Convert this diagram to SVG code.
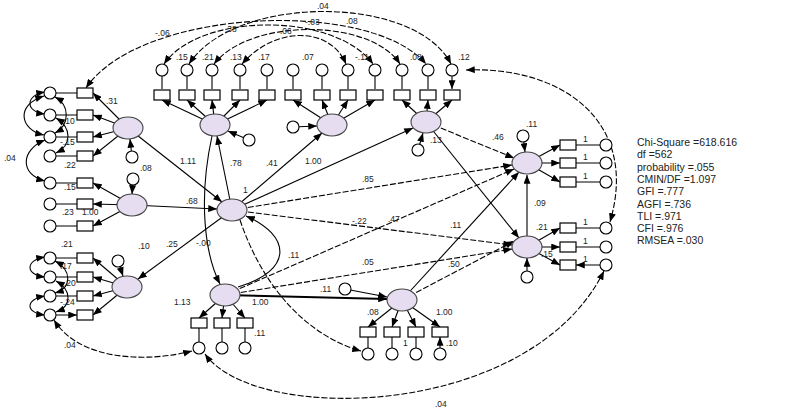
<svg xmlns="http://www.w3.org/2000/svg" width="803" height="410" viewBox="0 0 803 410">
<defs>
<marker id="a" viewBox="0 0 10 8" refX="10" refY="4" markerWidth="9" markerHeight="7" orient="auto-start-reverse" markerUnits="userSpaceOnUse"><path d="M0,0 L10,4 L0,8 z" fill="#000"/></marker>
<style>
.c{stroke:#000;stroke-width:1.1;fill:none;marker-end:url(#a)}
.d{stroke-dasharray:6 2}
.b{marker-start:url(#a)}
.lat{fill:#e6def0;stroke:#444;stroke-width:1.1}
.box{fill:#fff;stroke:#000;stroke-width:1.2}
.err{fill:#fff;stroke:#000;stroke-width:1.1}
.t{font-family:"Liberation Sans",Arial,sans-serif;font-size:8.5px;fill:#222}
.st{font-family:"Liberation Sans",Arial,sans-serif;font-size:10.5px;fill:#222}
</style>
</defs>
<rect width="803" height="410" fill="#fff"/>
<g id="connectors">
<path class="c" d="M162 70V89M187 70V89M212 70V89M240 70V89M267 70V89M293 70V89M322 70V89M348 70V89M375 70V89M402 70V89M428 70V89M452 70V89"/>
<path class="c" d="M215 125L162 100"/><path class="c" d="M215 125L187 100"/><path class="c" d="M215 125L212 100"/><path class="c" d="M215 125L240 100"/><path class="c" d="M215 125L267 100"/>
<path class="c" d="M332 125L293 100"/><path class="c" d="M332 125L322 100"/><path class="c" d="M332 125L348 100"/><path class="c" d="M332 125L375 100"/>
<path class="c" d="M426 122L402 100"/><path class="c" d="M426 122L428 100"/><path class="c" d="M426 122L452 100"/>
<path class="c" d="M50 93H77M50 115H77M50 137H77M50 156H77M50 183H77M50 204H77M50 226H77M50 258H77M50 277H77M50 296H77M50 315H77"/>
<path class="c" d="M128 128L93 93"/><path class="c" d="M128 128L93 115"/><path class="c" d="M128 128L93 137"/><path class="c" d="M128 128L93 156"/>
<path class="c" d="M132 205L93 183"/><path class="c" d="M132 205L93 204"/><path class="c" d="M132 205L93 226"/>
<path class="c" d="M127 287L93 258"/><path class="c" d="M127 287L93 277"/><path class="c" d="M127 287L93 296"/><path class="c" d="M127 287L93 315"/>
<path class="c" d="M606 145H576M606 163H576M606 182H576M606 228H576M606 247H576M606 265H576"/>
<path class="c" d="M527 163L560 145"/><path class="c" d="M527 163L560 163"/><path class="c" d="M527 163L560 182"/>
<path class="c" d="M527 247L560 228"/><path class="c" d="M527 247L560 247"/><path class="c" d="M527 247L560 265"/>
<path class="c" d="M199 348V328M222 348V328M245 348V328M368 354V337M392 354V337M416 354V337M440 354V337"/>
<path class="c" d="M225 295L199 318"/><path class="c" d="M225 295L222 318"/><path class="c" d="M225 295L245 318"/>
<path class="c" d="M402 300L368 327"/><path class="c" d="M402 300L392 327"/><path class="c" d="M402 300L416 327"/><path class="c" d="M402 300L440 327"/>
<path class="c" d="M249 140L228 131"/><path class="c" d="M293 127L317 126"/><path class="c" d="M418 150L423 133"/><path class="c" d="M523 136L525 152"/><path class="c" d="M527 277L527 258"/><path class="c" d="M345 289L387 297"/><path class="c" d="M132 157L130 139"/><path class="c" d="M133 179L132 194"/><path class="c" d="M118 261L123 276"/>
<path class="c" d="M128 128L222 202"/>
<path class="c" d="M132 205L217 209"/>
<path class="c" d="M232 210L138 279"/>
<path class="c" d="M232 210L217 136"/>
<path class="c" d="M232 210L322 133"/>
<path class="c" d="M232 210L413 128"/>
<path class="c d" d="M232 210L512 165"/>
<path class="c d" d="M232 210L512 245"/>
<path class="c d" d="M225 295L514 169"/>
<path class="c d" d="M225 295L512 249"/>
<path class="c" style="stroke-width:2" d="M225 295L387 299"/>
<path class="c d" d="M402 300L514 241"/>
<path class="c" d="M402 300L519 172"/>
<path class="c d" d="M426 122L514 158"/>
<path class="c" d="M426 122L519 238"/>
<path class="c" d="M527 236L527 175"/>
<path class="c" d="M238 287C295 270 290 235 246 216"/>
<path class="c" d="M212 136C198 200 205 255 220 284"/>
<path class="c d" d="M240 220C262 285 305 335 361 351"/>
<path class="c d b" d="M86 88C140 8 370 -2 426 64"/>
<path class="c d b" d="M164 64C200 12 335 12 373 64"/>
<path class="c d b" d="M189 64C235 -6 415 -6 451 64"/>
<path class="c d b" d="M214 64C250 18 370 18 400 64"/>
<path class="c d b" d="M242 64C275 26 330 26 346 64"/>
<path class="c d b" d="M466 70C560 66 640 120 610 222"/>
<path class="c d b" d="M54 320C80 362 150 362 192 351"/>
<path class="c d b" d="M205 354C255 425 530 420 604 271"/>
<path class="c b" d="M45 92C25 95 25 112 45 114"/>
<path class="c b" d="M44 96C15 105 20 130 44 135"/>
<path class="c b" d="M55 97C70 105 70 125 55 133"/>
<path class="c b" d="M56 118C72 128 72 145 56 153"/>
<path class="c b" d="M45 140C20 150 20 175 45 181"/>
<path class="c b" d="M45 257C25 260 25 275 45 277"/>
<path class="c b" d="M45 296C25 299 25 313 45 315"/>
<path class="c b" d="M55 261C72 270 72 288 55 293"/>
<path class="c b" d="M56 281C72 290 72 306 56 312"/>
</g>
<g id="latents">
<g id="A"><ellipse class="lat" cx="215" cy="125" rx="15" ry="11"/></g>
<g id="B"><ellipse class="lat" cx="332" cy="125" rx="15" ry="11"/></g>
<g id="C"><ellipse class="lat" cx="426" cy="122" rx="15" ry="11"/></g>
<g id="D"><ellipse class="lat" cx="527" cy="163" rx="15" ry="11"/></g>
<g id="E"><ellipse class="lat" cx="527" cy="247" rx="15" ry="11"/></g>
<g id="F"><ellipse class="lat" cx="225" cy="295" rx="15" ry="11"/></g>
<g id="G"><ellipse class="lat" cx="402" cy="300" rx="15" ry="11"/></g>
<g id="H"><ellipse class="lat" cx="232" cy="210" rx="15" ry="11"/></g>
<g id="L1"><ellipse class="lat" cx="128" cy="128" rx="15" ry="11"/></g>
<g id="L2"><ellipse class="lat" cx="132" cy="205" rx="15" ry="11"/></g>
<g id="L3"><ellipse class="lat" cx="127" cy="287" rx="15" ry="11"/></g>
</g>
<g id="boxes">
<g id="bt1"><rect class="box" x="154" y="90" width="16" height="10"/></g>
<g id="bt2"><rect class="box" x="179" y="90" width="16" height="10"/></g>
<g id="bt3"><rect class="box" x="204" y="90" width="16" height="10"/></g>
<g id="bt4"><rect class="box" x="232" y="90" width="16" height="10"/></g>
<g id="bt5"><rect class="box" x="259" y="90" width="16" height="10"/></g>
<g id="bt6"><rect class="box" x="285" y="90" width="16" height="10"/></g>
<g id="bt7"><rect class="box" x="314" y="90" width="16" height="10"/></g>
<g id="bt8"><rect class="box" x="340" y="90" width="16" height="10"/></g>
<g id="bt9"><rect class="box" x="367" y="90" width="16" height="10"/></g>
<g id="bt10"><rect class="box" x="394" y="90" width="16" height="10"/></g>
<g id="bt11"><rect class="box" x="420" y="90" width="16" height="10"/></g>
<g id="bt12"><rect class="box" x="444" y="90" width="16" height="10"/></g>
<g id="bl1"><rect class="box" x="77" y="88" width="16" height="10"/></g>
<g id="bl2"><rect class="box" x="77" y="110" width="16" height="10"/></g>
<g id="bl3"><rect class="box" x="77" y="132" width="16" height="10"/></g>
<g id="bl4"><rect class="box" x="77" y="151" width="16" height="10"/></g>
<g id="bl5"><rect class="box" x="77" y="178" width="16" height="10"/></g>
<g id="bl6"><rect class="box" x="77" y="199" width="16" height="10"/></g>
<g id="bl7"><rect class="box" x="77" y="221" width="16" height="10"/></g>
<g id="bl8"><rect class="box" x="77" y="253" width="16" height="10"/></g>
<g id="bl9"><rect class="box" x="77" y="272" width="16" height="10"/></g>
<g id="bl10"><rect class="box" x="77" y="291" width="16" height="10"/></g>
<g id="bl11"><rect class="box" x="77" y="310" width="16" height="10"/></g>
<g id="br1"><rect class="box" x="560" y="140" width="16" height="10"/></g>
<g id="br2"><rect class="box" x="560" y="158" width="16" height="10"/></g>
<g id="br3"><rect class="box" x="560" y="177" width="16" height="10"/></g>
<g id="br4"><rect class="box" x="560" y="223" width="16" height="10"/></g>
<g id="br5"><rect class="box" x="560" y="242" width="16" height="10"/></g>
<g id="br6"><rect class="box" x="560" y="260" width="16" height="10"/></g>
<g id="bf1"><rect class="box" x="191" y="318" width="16" height="10"/></g>
<g id="bf2"><rect class="box" x="214" y="318" width="16" height="10"/></g>
<g id="bf3"><rect class="box" x="237" y="318" width="16" height="10"/></g>
<g id="bg1"><rect class="box" x="360" y="327" width="16" height="10"/></g>
<g id="bg2"><rect class="box" x="384" y="327" width="16" height="10"/></g>
<g id="bg3"><rect class="box" x="408" y="327" width="16" height="10"/></g>
<g id="bg4"><rect class="box" x="432" y="327" width="16" height="10"/></g>
</g>
<g id="errors">
<g id="et1"><circle class="err" cx="162" cy="70" r="6"/></g>
<g id="et2"><circle class="err" cx="187" cy="70" r="6"/></g>
<g id="et3"><circle class="err" cx="212" cy="70" r="6"/></g>
<g id="et4"><circle class="err" cx="240" cy="70" r="6"/></g>
<g id="et5"><circle class="err" cx="267" cy="70" r="6"/></g>
<g id="et6"><circle class="err" cx="293" cy="70" r="6"/></g>
<g id="et7"><circle class="err" cx="322" cy="70" r="6"/></g>
<g id="et8"><circle class="err" cx="348" cy="70" r="6"/></g>
<g id="et9"><circle class="err" cx="375" cy="70" r="6"/></g>
<g id="et10"><circle class="err" cx="402" cy="70" r="6"/></g>
<g id="et11"><circle class="err" cx="428" cy="70" r="6"/></g>
<g id="et12"><circle class="err" cx="452" cy="70" r="6"/></g>
<g id="el1"><circle class="err" cx="50" cy="93" r="6"/></g>
<g id="el2"><circle class="err" cx="50" cy="115" r="6"/></g>
<g id="el3"><circle class="err" cx="50" cy="137" r="6"/></g>
<g id="el4"><circle class="err" cx="50" cy="156" r="6"/></g>
<g id="el5"><circle class="err" cx="50" cy="183" r="6"/></g>
<g id="el6"><circle class="err" cx="50" cy="204" r="6"/></g>
<g id="el7"><circle class="err" cx="50" cy="226" r="6"/></g>
<g id="el8"><circle class="err" cx="50" cy="258" r="6"/></g>
<g id="el9"><circle class="err" cx="50" cy="277" r="6"/></g>
<g id="el10"><circle class="err" cx="50" cy="296" r="6"/></g>
<g id="el11"><circle class="err" cx="50" cy="315" r="6"/></g>
<g id="er1"><circle class="err" cx="606" cy="145" r="6"/></g>
<g id="er2"><circle class="err" cx="606" cy="163" r="6"/></g>
<g id="er3"><circle class="err" cx="606" cy="182" r="6"/></g>
<g id="er4"><circle class="err" cx="606" cy="228" r="6"/></g>
<g id="er5"><circle class="err" cx="606" cy="247" r="6"/></g>
<g id="er6"><circle class="err" cx="606" cy="265" r="6"/></g>
<g id="ef1"><circle class="err" cx="199" cy="348" r="6"/></g>
<g id="ef2"><circle class="err" cx="222" cy="348" r="6"/></g>
<g id="ef3"><circle class="err" cx="245" cy="348" r="6"/></g>
<g id="eg1"><circle class="err" cx="368" cy="354" r="6"/></g>
<g id="eg2"><circle class="err" cx="392" cy="354" r="6"/></g>
<g id="eg3"><circle class="err" cx="416" cy="354" r="6"/></g>
<g id="eg4"><circle class="err" cx="440" cy="354" r="6"/></g>
<g id="rA"><circle class="err" cx="249" cy="140" r="6"/></g>
<g id="rB"><circle class="err" cx="293" cy="127" r="6"/></g>
<g id="rC"><circle class="err" cx="418" cy="150" r="6"/></g>
<g id="rD"><circle class="err" cx="523" cy="136" r="6"/></g>
<g id="rE"><circle class="err" cx="527" cy="277" r="6"/></g>
<g id="rG"><circle class="err" cx="345" cy="289" r="6"/></g>
<g id="rL1"><circle class="err" cx="132" cy="157" r="6"/></g>
<g id="rL2"><circle class="err" cx="133" cy="179" r="6"/></g>
<g id="rL3"><circle class="err" cx="118" cy="261" r="6"/></g>
</g>
<g id="labels" class="t">
<text x="155" y="36">-.06</text><text x="225" y="32">.38</text><text x="280" y="34">.06</text><text x="317" y="9">.04</text><text x="305" y="25">-.03</text><text x="346" y="24">.08</text>
<text x="176" y="60">.15</text><text x="202" y="60">.21</text><text x="230" y="60">.13</text><text x="258" y="60">.17</text><text x="302" y="60">.07</text><text x="355" y="60">-.11</text><text x="410" y="60">.08</text><text x="458" y="60">.12</text>
<text x="106" y="104">.31</text><text x="60" y="124">-.10</text><text x="60" y="145">-.15</text><text x="64" y="168">.22</text><text x="64" y="190">.15</text><text x="62" y="215">.23</text><text x="82" y="215">1.00</text><text x="140" y="171">.08</text><text x="4" y="161">.04</text>
<text x="180" y="164">1.11</text><text x="186" y="204">.68</text><text x="61" y="247">.21</text><text x="138" y="249">.10</text><text x="166" y="247">.25</text><text x="60" y="269">.17</text><text x="64" y="286">.20</text><text x="60" y="305">-.24</text><text x="64" y="348">.04</text><text x="196" y="246">-.00</text>
<text x="230" y="166">.78</text><text x="266" y="166">.41</text><text x="305" y="164">1.00</text><text x="243" y="193">1</text><text x="362" y="182">.85</text><text x="352" y="224">-.22</text><text x="388" y="222">.47</text><text x="288" y="258">.11</text><text x="362" y="265">.05</text><text x="448" y="267">.50</text><text x="450" y="228">.11</text>
<text x="430" y="143">.13</text><text x="492" y="140">.46</text><text x="526" y="127">.11</text>
<text x="583" y="142">1</text><text x="583" y="160">1</text><text x="583" y="179">1</text><text x="583" y="225">1</text><text x="583" y="244">1</text><text x="583" y="262">1</text>
<text x="534" y="206">.09</text><text x="536" y="230">.21</text><text x="541" y="257">.15</text>
<text x="174" y="305">1.13</text><text x="252" y="305">1.00</text><text x="254" y="336">.11</text><text x="320" y="292">.11</text><text x="367" y="315">.08</text><text x="436" y="315">1.00</text><text x="403" y="346">1</text><text x="446" y="346">.10</text><text x="435" y="407">.04</text>
</g>
<g id="stats" class="st">
<text x="637" y="146">Chi-Square =618.616</text>
<text x="637" y="158">df =562</text>
<text x="637" y="171">probability =.055</text>
<text x="637" y="183">CMIN/DF =1.097</text>
<text x="637" y="195">GFI =.777</text>
<text x="637" y="208">AGFI =.736</text>
<text x="637" y="220">TLI =.971</text>
<text x="637" y="232">CFI =.976</text>
<text x="637" y="244">RMSEA =.030</text>
</g>
</svg>
